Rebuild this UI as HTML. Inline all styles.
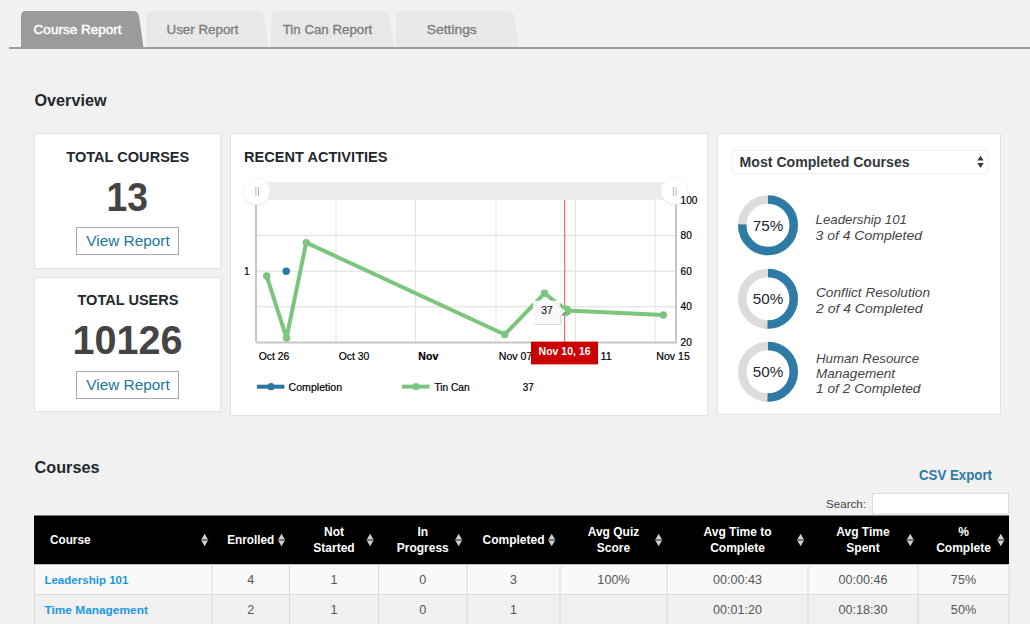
<!DOCTYPE html>
<html><head><meta charset="utf-8"><title>Course Report</title>
<style>
html,body{margin:0;padding:0;background:#f1f1f1;width:1030px;height:624px;overflow:hidden;}
svg{display:block;font-family:"Liberation Sans", sans-serif;}
</style></head><body>
<svg width="1030" height="624" viewBox="0 0 1030 624">
<rect x="0" y="0" width="1030" height="624" fill="#f1f1f1"/>
<path d="M21,48 L21,16 Q21,11 26,11 L133,11 Q138,11 139,16 L143.5,48 Z" fill="#9a9b9c"/>
<path d="M146,48 L146,16 Q146,11 151,11 L258,11 Q263,11 264,16 L268.5,48 Z" fill="#e8e8e8"/>
<path d="M271,48 L271,16 Q271,11 276,11 L383,11 Q388,11 389,16 L393.5,48 Z" fill="#e8e8e8"/>
<path d="M396,48 L396,16 Q396,11 401,11 L508,11 Q513,11 514,16 L518.5,48 Z" fill="#e8e8e8"/>
<rect x="9" y="47" width="1021" height="2" fill="#9c9c9c"/>
<text x="77.6" y="34.4" font-size="13" fill="#ffffff" text-anchor="middle" textLength="88" lengthAdjust="spacingAndGlyphs" stroke="#ffffff" stroke-width="0.45">Course Report</text>
<text x="202.5" y="34.4" font-size="13" fill="#7d7d7d" text-anchor="middle" textLength="72" lengthAdjust="spacingAndGlyphs" stroke="#7d7d7d" stroke-width="0.35">User Report</text>
<text x="327.5" y="34.4" font-size="13" fill="#7d7d7d" text-anchor="middle" textLength="89.5" lengthAdjust="spacingAndGlyphs" stroke="#7d7d7d" stroke-width="0.35">Tin Can Report</text>
<text x="451.8" y="34.4" font-size="13" fill="#7d7d7d" text-anchor="middle" textLength="50" lengthAdjust="spacingAndGlyphs" stroke="#7d7d7d" stroke-width="0.35">Settings</text>
<text x="34.5" y="105.9" font-size="17" font-weight="bold" fill="#23282d" text-anchor="start" textLength="72" lengthAdjust="spacingAndGlyphs">Overview</text>
<rect x="34.5" y="133.5" width="186" height="135" fill="#ffffff" stroke="#e3e3e3" stroke-width="1"/>
<text x="127.8" y="161.7" font-size="14" font-weight="bold" fill="#23282d" text-anchor="middle" textLength="123" lengthAdjust="spacingAndGlyphs">TOTAL COURSES</text>
<text x="127.3" y="211.4" font-size="40" font-weight="bold" fill="#444444" text-anchor="middle" textLength="41.5" lengthAdjust="spacingAndGlyphs">13</text>
<rect x="76.5" y="227.5" width="102" height="27" fill="#ffffff" stroke="#aaaaaa" stroke-width="1"/>
<text x="128" y="245.8" font-size="14" fill="#21759b" text-anchor="middle" textLength="83.5" lengthAdjust="spacingAndGlyphs">View Report</text>
<rect x="34.5" y="277.5" width="186" height="134" fill="#ffffff" stroke="#e3e3e3" stroke-width="1"/>
<text x="128" y="305.4" font-size="14" font-weight="bold" fill="#23282d" text-anchor="middle" textLength="101" lengthAdjust="spacingAndGlyphs">TOTAL USERS</text>
<text x="127.4" y="354.4" font-size="40" font-weight="bold" fill="#444444" text-anchor="middle" textLength="110" lengthAdjust="spacingAndGlyphs">10126</text>
<rect x="76.5" y="371.5" width="102" height="27" fill="#ffffff" stroke="#aaaaaa" stroke-width="1"/>
<text x="128" y="389.8" font-size="14" fill="#21759b" text-anchor="middle" textLength="83.5" lengthAdjust="spacingAndGlyphs">View Report</text>
<rect x="230.5" y="133.5" width="477" height="282" fill="#ffffff" stroke="#e3e3e3" stroke-width="1"/>
<text x="244" y="161.7" font-size="14" font-weight="bold" fill="#23282d" text-anchor="start" textLength="143.5" lengthAdjust="spacingAndGlyphs">RECENT ACTIVITIES</text>
<rect x="256" y="182" width="420" height="18" fill="#ececec"/>
<line x1="257" y1="235.6" x2="675" y2="235.6" stroke="#dcdcdc" stroke-width="1"/>
<line x1="257" y1="271.2" x2="675" y2="271.2" stroke="#dcdcdc" stroke-width="1"/>
<line x1="257" y1="306.8" x2="675" y2="306.8" stroke="#dcdcdc" stroke-width="1"/>
<line x1="336" y1="200" x2="336" y2="342" stroke="#e3e3e3" stroke-width="1"/>
<line x1="415.5" y1="200" x2="415.5" y2="342" stroke="#e3e3e3" stroke-width="1"/>
<line x1="496" y1="200" x2="496" y2="342" stroke="#e3e3e3" stroke-width="1"/>
<line x1="575.5" y1="200" x2="575.5" y2="342" stroke="#e3e3e3" stroke-width="1"/>
<line x1="655" y1="200" x2="655" y2="342" stroke="#e3e3e3" stroke-width="1"/>
<rect x="255" y="200" width="2" height="142" fill="#c6c6c6"/>
<rect x="675" y="200" width="2" height="143" fill="#c6c6c6"/>
<rect x="256" y="341.5" width="421" height="2" fill="#c6c6c6"/>
<circle cx="256.7" cy="192.10000000000002" r="13.8" fill="#000" opacity="0.07"/>
<circle cx="256.7" cy="191.3" r="13.5" fill="#ffffff" stroke="#ececec" stroke-width="0.6"/>
<line x1="255.89999999999998" y1="187" x2="255.89999999999998" y2="196" stroke="#aaa" stroke-width="0.9"/>
<line x1="258.5" y1="187" x2="258.5" y2="196" stroke="#aaa" stroke-width="0.9"/>
<circle cx="674.2" cy="191.8" r="13.8" fill="#000" opacity="0.07"/>
<circle cx="674.2" cy="191" r="13.5" fill="#ffffff" stroke="#ececec" stroke-width="0.6"/>
<line x1="673.4000000000001" y1="187" x2="673.4000000000001" y2="196" stroke="#aaa" stroke-width="0.9"/>
<line x1="676.0" y1="187" x2="676.0" y2="196" stroke="#aaa" stroke-width="0.9"/>
<text x="244" y="275.4" font-size="10" fill="#000" text-anchor="start" stroke="#000" stroke-width="0.2">1</text>
<text x="680.6" y="203.70000000000002" font-size="10" fill="#000" text-anchor="start" textLength="16.7" lengthAdjust="spacingAndGlyphs" stroke="#000" stroke-width="0.2">100</text>
<text x="680.6" y="239.0" font-size="10" fill="#000" text-anchor="start" textLength="11.2" lengthAdjust="spacingAndGlyphs" stroke="#000" stroke-width="0.2">80</text>
<text x="680.6" y="274.59999999999997" font-size="10" fill="#000" text-anchor="start" textLength="11.2" lengthAdjust="spacingAndGlyphs" stroke="#000" stroke-width="0.2">60</text>
<text x="680.6" y="310.2" font-size="10" fill="#000" text-anchor="start" textLength="11.2" lengthAdjust="spacingAndGlyphs" stroke="#000" stroke-width="0.2">40</text>
<text x="680.6" y="345.79999999999995" font-size="10" fill="#000" text-anchor="start" textLength="11.2" lengthAdjust="spacingAndGlyphs" stroke="#000" stroke-width="0.2">20</text>
<text x="258.8" y="359.6" font-size="10" fill="#000" text-anchor="start" textLength="30.5" lengthAdjust="spacingAndGlyphs" stroke="#000" stroke-width="0.2">Oct 26</text>
<text x="338.8" y="359.6" font-size="10" fill="#000" text-anchor="start" textLength="30.5" lengthAdjust="spacingAndGlyphs" stroke="#000" stroke-width="0.2">Oct 30</text>
<text x="418.3" y="359.6" font-size="10" font-weight="bold" fill="#000" text-anchor="start" textLength="20" lengthAdjust="spacingAndGlyphs" stroke="#000" stroke-width="0.2">Nov</text>
<text x="498.8" y="359.6" font-size="10" fill="#000" text-anchor="start" textLength="33.5" lengthAdjust="spacingAndGlyphs" stroke="#000" stroke-width="0.2">Nov 07</text>
<text x="578.3" y="359.6" font-size="10" fill="#000" text-anchor="start" textLength="33.5" lengthAdjust="spacingAndGlyphs" stroke="#000" stroke-width="0.2">Nov 11</text>
<text x="656.3" y="359.6" font-size="10" fill="#000" text-anchor="start" textLength="33.5" lengthAdjust="spacingAndGlyphs" stroke="#000" stroke-width="0.2">Nov 15</text>
<line x1="564.7" y1="200" x2="564.7" y2="342" stroke="#e05050" stroke-width="1"/>
<polyline points="266.7,276 286.5,338 306.2,242.6 504.7,334.5 544.5,293.3 566.5,310.6 663.3,315" fill="none" stroke="#7bc57c" stroke-width="4" stroke-linejoin="round" stroke-linecap="round"/>
<circle cx="266.7" cy="276" r="3.7" fill="#7bc57c"/>
<circle cx="286.5" cy="338" r="3.7" fill="#7bc57c"/>
<circle cx="306.2" cy="242.6" r="3.7" fill="#7bc57c"/>
<circle cx="504.7" cy="334.5" r="3.7" fill="#7bc57c"/>
<circle cx="544.5" cy="293.3" r="3.7" fill="#7bc57c"/>
<circle cx="566.5" cy="310.6" r="5" fill="#7bc57c"/>
<circle cx="663.3" cy="315" r="3.7" fill="#7bc57c"/>
<circle cx="286.2" cy="271.3" r="3.7" fill="#2a77a3"/>
<circle cx="565.4" cy="311.3" r="4.8" fill="#7bc57c"/>
<path d="M534,302.5 h27.5 v6 l5,4 l-5,4 v8.3 h-27.5 Z" fill="#000" opacity="0.2"/>
<path d="M533,300.7 h27.5 v6 l5,4.5 l-5,4.5 v8.3 h-27.5 Z" fill="#ffffff" opacity="0.88"/>
<text x="547" y="314.4" font-size="10" fill="#222" text-anchor="middle" textLength="11.5" lengthAdjust="spacingAndGlyphs" stroke="#222" stroke-width="0.2">37</text>
<rect x="531" y="341.7" width="67" height="22.7" fill="#cc0000"/>
<text x="564.6" y="355.2" font-size="10" font-weight="bold" fill="#ffffff" text-anchor="middle" textLength="52" lengthAdjust="spacingAndGlyphs">Nov 10, 16</text>
<rect x="257" y="384.7" width="27.4" height="4" fill="#2a77a3"/>
<circle cx="271" cy="386.7" r="3.6" fill="#2a77a3"/>
<text x="288.6" y="391" font-size="10" fill="#000" text-anchor="start" textLength="53.5" lengthAdjust="spacingAndGlyphs" stroke="#000" stroke-width="0.2">Completion</text>
<rect x="402" y="384.6" width="27.6" height="4" fill="#7bc57c"/>
<circle cx="416" cy="386.6" r="3.6" fill="#7bc57c"/>
<text x="434.4" y="391" font-size="10" fill="#000" text-anchor="start" textLength="35.2" lengthAdjust="spacingAndGlyphs" stroke="#000" stroke-width="0.2">Tin Can</text>
<text x="522.8" y="391" font-size="10" fill="#000" text-anchor="start" textLength="11" lengthAdjust="spacingAndGlyphs" stroke="#000" stroke-width="0.2">37</text>
<rect x="717.5" y="133.5" width="283" height="281" fill="#ffffff" stroke="#e3e3e3" stroke-width="1"/>
<rect x="732" y="150.5" width="256" height="23" fill="#ffffff" stroke="#eeeeee" stroke-width="1" rx="4"/>
<text x="739.6" y="166.7" font-size="14" font-weight="bold" fill="#32373c" text-anchor="start" textLength="170" lengthAdjust="spacingAndGlyphs">Most Completed Courses</text>
<path d="M977.4,160.4 L980.5,155.7 L983.6,160.4 Z" fill="#32373c"/>
<path d="M977.4,163 L980.5,168 L983.6,163 Z" fill="#32373c"/>
<circle cx="768" cy="225.2" r="25.75" fill="none" stroke="#dcdcdc" stroke-width="8.5"/>
<circle cx="768" cy="225.2" r="25.75" fill="none" stroke="#2e7ba6" stroke-width="8.5" stroke-dasharray="121.34 161.79" transform="rotate(-90 768 225.2)"/>
<text x="768" y="230.79999999999998" font-size="15" fill="#23282d" text-anchor="middle" textLength="30.5" lengthAdjust="spacingAndGlyphs">75%</text>
<circle cx="768" cy="298.7" r="25.75" fill="none" stroke="#dcdcdc" stroke-width="8.5"/>
<circle cx="768" cy="298.7" r="25.75" fill="none" stroke="#2e7ba6" stroke-width="8.5" stroke-dasharray="80.90 161.79" transform="rotate(-90 768 298.7)"/>
<text x="768" y="304.3" font-size="15" fill="#23282d" text-anchor="middle" textLength="30.5" lengthAdjust="spacingAndGlyphs">50%</text>
<circle cx="768" cy="371.8" r="25.75" fill="none" stroke="#dcdcdc" stroke-width="8.5"/>
<circle cx="768" cy="371.8" r="25.75" fill="none" stroke="#2e7ba6" stroke-width="8.5" stroke-dasharray="80.90 161.79" transform="rotate(-90 768 371.8)"/>
<text x="768" y="377.40000000000003" font-size="15" fill="#23282d" text-anchor="middle" textLength="30.5" lengthAdjust="spacingAndGlyphs">50%</text>
<text x="815.5" y="224.4" font-size="13" font-style="italic" fill="#444444" text-anchor="start" textLength="91.5" lengthAdjust="spacingAndGlyphs">Leadership 101</text>
<text x="815.5" y="239.8" font-size="13" font-style="italic" fill="#444444" text-anchor="start" textLength="106.5" lengthAdjust="spacingAndGlyphs">3 of 4 Completed</text>
<text x="816" y="297.3" font-size="13" font-style="italic" fill="#444444" text-anchor="start" textLength="114" lengthAdjust="spacingAndGlyphs">Conflict Resolution</text>
<text x="816" y="312.9" font-size="13" font-style="italic" fill="#444444" text-anchor="start" textLength="106.5" lengthAdjust="spacingAndGlyphs">2 of 4 Completed</text>
<text x="816" y="362.9" font-size="13" font-style="italic" fill="#444444" text-anchor="start" textLength="103" lengthAdjust="spacingAndGlyphs">Human Resource</text>
<text x="816" y="378.3" font-size="13" font-style="italic" fill="#444444" text-anchor="start" textLength="79" lengthAdjust="spacingAndGlyphs">Management</text>
<text x="816" y="393.4" font-size="13" font-style="italic" fill="#444444" text-anchor="start" textLength="104.5" lengthAdjust="spacingAndGlyphs">1 of 2 Completed</text>
<text x="34.5" y="473.3" font-size="17" font-weight="bold" fill="#23282d" text-anchor="start" textLength="65" lengthAdjust="spacingAndGlyphs">Courses</text>
<text x="919" y="479.5" font-size="14" font-weight="bold" fill="#2e7ba6" text-anchor="start" textLength="73" lengthAdjust="spacingAndGlyphs">CSV Export</text>
<text x="826" y="508.4" font-size="11.5" fill="#444" text-anchor="start" textLength="40" lengthAdjust="spacingAndGlyphs">Search:</text>
<rect x="872.5" y="493.5" width="136" height="20.5" fill="#ffffff" stroke="#dddddd" stroke-width="1"/>
<rect x="34" y="515.5" width="975" height="49" fill="#000000"/>
<rect x="34" y="564.5" width="975" height="30" fill="#f9f9f9"/>
<rect x="34" y="594.5" width="975" height="30" fill="#f0f0f0"/>
<line x1="34" y1="594.5" x2="1009" y2="594.5" stroke="#dddddd" stroke-width="1"/>
<line x1="34.5" y1="564.5" x2="34.5" y2="624" stroke="#d8d8d8" stroke-width="1"/>
<line x1="212" y1="564.5" x2="212" y2="624" stroke="#d8d8d8" stroke-width="1"/>
<line x1="289.5" y1="564.5" x2="289.5" y2="624" stroke="#d8d8d8" stroke-width="1"/>
<line x1="378.5" y1="564.5" x2="378.5" y2="624" stroke="#d8d8d8" stroke-width="1"/>
<line x1="467" y1="564.5" x2="467" y2="624" stroke="#d8d8d8" stroke-width="1"/>
<line x1="560" y1="564.5" x2="560" y2="624" stroke="#d8d8d8" stroke-width="1"/>
<line x1="667" y1="564.5" x2="667" y2="624" stroke="#d8d8d8" stroke-width="1"/>
<line x1="808" y1="564.5" x2="808" y2="624" stroke="#d8d8d8" stroke-width="1"/>
<line x1="918" y1="564.5" x2="918" y2="624" stroke="#d8d8d8" stroke-width="1"/>
<line x1="1009" y1="564.5" x2="1009" y2="624" stroke="#d8d8d8" stroke-width="1"/>
<text x="50" y="543.8" font-size="12" font-weight="bold" fill="#fff" text-anchor="start" textLength="40.5" lengthAdjust="spacingAndGlyphs">Course</text>
<text x="250.75" y="543.8" font-size="12" font-weight="bold" fill="#fff" text-anchor="middle" textLength="47" lengthAdjust="spacingAndGlyphs">Enrolled</text>
<text x="334.0" y="536.2" font-size="12" font-weight="bold" fill="#fff" text-anchor="middle">Not</text>
<text x="334.0" y="552" font-size="12" font-weight="bold" fill="#fff" text-anchor="middle">Started</text>
<text x="422.75" y="536.2" font-size="12" font-weight="bold" fill="#fff" text-anchor="middle">In</text>
<text x="422.75" y="552" font-size="12" font-weight="bold" fill="#fff" text-anchor="middle">Progress</text>
<text x="513.5" y="543.8" font-size="12" font-weight="bold" fill="#fff" text-anchor="middle" textLength="62" lengthAdjust="spacingAndGlyphs">Completed</text>
<text x="613.5" y="536.2" font-size="12" font-weight="bold" fill="#fff" text-anchor="middle">Avg Quiz</text>
<text x="613.5" y="552" font-size="12" font-weight="bold" fill="#fff" text-anchor="middle">Score</text>
<text x="737.5" y="536.2" font-size="12" font-weight="bold" fill="#fff" text-anchor="middle">Avg Time to</text>
<text x="737.5" y="552" font-size="12" font-weight="bold" fill="#fff" text-anchor="middle">Complete</text>
<text x="863.0" y="536.2" font-size="12" font-weight="bold" fill="#fff" text-anchor="middle">Avg Time</text>
<text x="863.0" y="552" font-size="12" font-weight="bold" fill="#fff" text-anchor="middle">Spent</text>
<text x="963.5" y="536.2" font-size="12" font-weight="bold" fill="#fff" text-anchor="middle">%</text>
<text x="963.5" y="552" font-size="12" font-weight="bold" fill="#fff" text-anchor="middle">Complete</text>
<path d="M201.1,539.7 L204.6,533.7 L208.1,539.7 Z" fill="#cfcfcf"/>
<path d="M201.1,540.3 L204.6,546.3 L208.1,540.3 Z" fill="#cfcfcf"/>
<rect x="201.0" y="539.2" width="7.2" height="1.6" fill="#6e6e6e"/>
<path d="M278.0,539.7 L281.5,533.7 L285.0,539.7 Z" fill="#cfcfcf"/>
<path d="M278.0,540.3 L281.5,546.3 L285.0,540.3 Z" fill="#cfcfcf"/>
<rect x="277.9" y="539.2" width="7.2" height="1.6" fill="#6e6e6e"/>
<path d="M366.6,539.7 L370.1,533.7 L373.6,539.7 Z" fill="#cfcfcf"/>
<path d="M366.6,540.3 L370.1,546.3 L373.6,540.3 Z" fill="#cfcfcf"/>
<rect x="366.5" y="539.2" width="7.2" height="1.6" fill="#6e6e6e"/>
<path d="M455.2,539.7 L458.7,533.7 L462.2,539.7 Z" fill="#cfcfcf"/>
<path d="M455.2,540.3 L458.7,546.3 L462.2,540.3 Z" fill="#cfcfcf"/>
<rect x="455.09999999999997" y="539.2" width="7.2" height="1.6" fill="#6e6e6e"/>
<path d="M548.2,539.7 L551.7,533.7 L555.2,539.7 Z" fill="#cfcfcf"/>
<path d="M548.2,540.3 L551.7,546.3 L555.2,540.3 Z" fill="#cfcfcf"/>
<rect x="548.1" y="539.2" width="7.2" height="1.6" fill="#6e6e6e"/>
<path d="M655.2,539.7 L658.7,533.7 L662.2,539.7 Z" fill="#cfcfcf"/>
<path d="M655.2,540.3 L658.7,546.3 L662.2,540.3 Z" fill="#cfcfcf"/>
<rect x="655.1" y="539.2" width="7.2" height="1.6" fill="#6e6e6e"/>
<path d="M797.1,539.7 L800.6,533.7 L804.1,539.7 Z" fill="#cfcfcf"/>
<path d="M797.1,540.3 L800.6,546.3 L804.1,540.3 Z" fill="#cfcfcf"/>
<rect x="797.0" y="539.2" width="7.2" height="1.6" fill="#6e6e6e"/>
<path d="M906.7,539.7 L910.2,533.7 L913.7,539.7 Z" fill="#cfcfcf"/>
<path d="M906.7,540.3 L910.2,546.3 L913.7,540.3 Z" fill="#cfcfcf"/>
<rect x="906.6" y="539.2" width="7.2" height="1.6" fill="#6e6e6e"/>
<path d="M997.3,539.7 L1000.8,533.7 L1004.3,539.7 Z" fill="#cfcfcf"/>
<path d="M997.3,540.3 L1000.8,546.3 L1004.3,540.3 Z" fill="#cfcfcf"/>
<rect x="997.1999999999999" y="539.2" width="7.2" height="1.6" fill="#6e6e6e"/>
<text x="44.4" y="583.8" font-size="11.5" font-weight="bold" fill="#1b97df" text-anchor="start" textLength="84" lengthAdjust="spacingAndGlyphs">Leadership 101</text>
<text x="44.4" y="613.8" font-size="11.5" font-weight="bold" fill="#1b97df" text-anchor="start" textLength="103.5" lengthAdjust="spacingAndGlyphs">Time Management</text>
<text x="250.75" y="583.6" font-size="12" fill="#555555" text-anchor="middle" textLength="7.01" lengthAdjust="spacingAndGlyphs">4</text>
<text x="250.75" y="613.5" font-size="12" fill="#555555" text-anchor="middle" textLength="7.01" lengthAdjust="spacingAndGlyphs">2</text>
<text x="334.0" y="583.6" font-size="12" fill="#555555" text-anchor="middle" textLength="7.01" lengthAdjust="spacingAndGlyphs">1</text>
<text x="334.0" y="613.5" font-size="12" fill="#555555" text-anchor="middle" textLength="7.01" lengthAdjust="spacingAndGlyphs">1</text>
<text x="422.75" y="583.6" font-size="12" fill="#555555" text-anchor="middle" textLength="7.01" lengthAdjust="spacingAndGlyphs">0</text>
<text x="422.75" y="613.5" font-size="12" fill="#555555" text-anchor="middle" textLength="7.01" lengthAdjust="spacingAndGlyphs">0</text>
<text x="513.5" y="583.6" font-size="12" fill="#555555" text-anchor="middle" textLength="7.01" lengthAdjust="spacingAndGlyphs">3</text>
<text x="513.5" y="613.5" font-size="12" fill="#555555" text-anchor="middle" textLength="7.01" lengthAdjust="spacingAndGlyphs">1</text>
<text x="613.5" y="583.6" font-size="12" fill="#555555" text-anchor="middle" textLength="32.22" lengthAdjust="spacingAndGlyphs">100%</text>
<text x="737.5" y="583.6" font-size="12" fill="#555555" text-anchor="middle" textLength="49.04" lengthAdjust="spacingAndGlyphs">00:00:43</text>
<text x="737.5" y="613.5" font-size="12" fill="#555555" text-anchor="middle" textLength="49.04" lengthAdjust="spacingAndGlyphs">00:01:20</text>
<text x="863.0" y="583.6" font-size="12" fill="#555555" text-anchor="middle" textLength="49.04" lengthAdjust="spacingAndGlyphs">00:00:46</text>
<text x="863.0" y="613.5" font-size="12" fill="#555555" text-anchor="middle" textLength="49.04" lengthAdjust="spacingAndGlyphs">00:18:30</text>
<text x="963.5" y="583.6" font-size="12" fill="#555555" text-anchor="middle" textLength="25.22" lengthAdjust="spacingAndGlyphs">75%</text>
<text x="963.5" y="613.5" font-size="12" fill="#555555" text-anchor="middle" textLength="25.22" lengthAdjust="spacingAndGlyphs">50%</text>
</svg>
</body></html>
